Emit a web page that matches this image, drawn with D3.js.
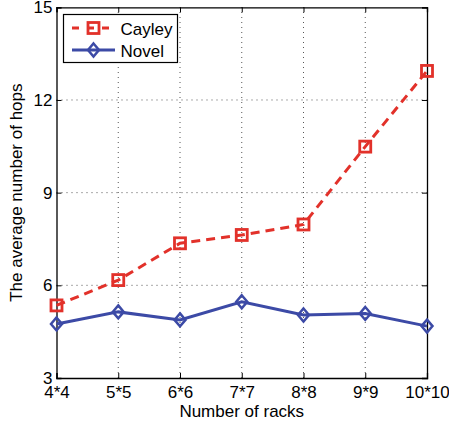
<!DOCTYPE html>
<html>
<head>
<meta charset="utf-8">
<script src="https://cdn.jsdelivr.net/npm/d3@7"></script>
<style>
  html, body { margin: 0; padding: 0; background: #fff; }
  svg { display: block; font-family: "Liberation Sans", Arial, sans-serif; }
</style>
</head>
<body>
<svg id="chart" width="449" height="423"></svg>
<script>
// Average hop count for each rack configuration
const categories = ["4*4", "5*5", "6*6", "7*7", "8*8", "9*9", "10*10"];
const cayley = [5.35, 6.17, 7.36, 7.63, 7.97, 10.49, 12.94];
const novel  = [4.75, 5.14, 4.88, 5.47, 5.04, 5.09, 4.68];
const yTicks = [3, 6, 9, 12, 15];

const W = 449, H = 423;
const m = { left: 56.5, right: 22, top: 7.3, bottom: 45 };
const svg = d3.select("#chart");

const x = d3.scalePoint().domain(categories).range([m.left, W - m.right]);
const y = d3.scaleLinear().domain([3, 15]).range([H - m.bottom, m.top]);

const red = "#e2312a", blue = "#3c4aa6";
const fs = 17;

// dotted grid
const grid = svg.append("g");
grid.selectAll("line.gx").data(categories.slice(1, -1)).join("line")
  .attr("x1", d => x(d)).attr("x2", d => x(d))
  .attr("y1", y(3)).attr("y2", y(15))
  .attr("stroke", "#555").attr("stroke-width", 1).attr("stroke-dasharray", "1,4");
grid.selectAll("line.gy").data(yTicks.slice(1, -1)).join("line")
  .attr("y1", d => y(d)).attr("y2", d => y(d))
  .attr("x1", x.range()[0]).attr("x2", x.range()[1])
  .attr("stroke", "#555").attr("stroke-width", 1).attr("stroke-dasharray", "1,4");

// axes (inward ticks on all four sides)
const tl = 5;
const axB = svg.append("g").attr("transform", `translate(0,${y(3)})`)
  .call(d3.axisBottom(x).tickSize(-tl));
const axT = svg.append("g").attr("transform", `translate(0,${y(15)})`)
  .call(d3.axisTop(x).tickSize(-tl).tickFormat(""));
const axL = svg.append("g").attr("transform", `translate(${x.range()[0]},0)`)
  .call(d3.axisLeft(y).tickValues(yTicks).tickSize(-tl).tickPadding(4));
const axR = svg.append("g").attr("transform", `translate(${x.range()[1]},0)`)
  .call(d3.axisRight(y).tickValues(yTicks).tickSize(-tl).tickFormat(""));
[axB, axT, axL, axR].forEach(a => {
  a.select(".domain").attr("stroke", "#000").attr("stroke-width", 1.3);
  a.selectAll(".tick line").attr("stroke", "#000");
  a.selectAll("text").attr("font-size", fs).attr("fill", "#000")
    .attr("font-family", "Liberation Sans, Arial, sans-serif");
});
// bottom tick labels sit with their baseline ~19px below the axis
axB.selectAll(".tick text").attr("y", 19.5).attr("dy", null);

// axis titles
svg.append("text").attr("x", (x.range()[0] + x.range()[1]) / 2).attr("y", 416.5)
  .attr("text-anchor", "middle").attr("font-size", fs).text("Number of racks");
svg.append("text")
  .attr("transform", `translate(22,${(y(3) + y(15)) / 2}) rotate(-90)`)
  .attr("text-anchor", "middle").attr("font-size", fs).text("The average number of hops");

// series
const line = d3.line().x((d, i) => x(categories[i])).y(d => y(d));

svg.append("path").datum(novel).attr("d", line)
  .attr("fill", "none").attr("stroke", blue).attr("stroke-width", 3);
svg.append("path").datum(cayley).attr("d", line)
  .attr("fill", "none").attr("stroke", red).attr("stroke-width", 3)
  .attr("stroke-dasharray", "9,6");

const diamond = (g, cx, cy) => g.append("path")
  .attr("d", `M${cx},${cy - 6.5}L${cx + 5.5},${cy}L${cx},${cy + 6.5}L${cx - 5.5},${cy}Z`)
  .attr("fill", "none").attr("stroke", blue).attr("stroke-width", 2.5);
const square = (g, cx, cy) => g.append("rect")
  .attr("x", cx - 5.5).attr("y", cy - 5.5).attr("width", 11).attr("height", 11)
  .attr("fill", "none").attr("stroke", red).attr("stroke-width", 2.8);

const marks = svg.append("g");
novel.forEach((v, i) => diamond(marks, x(categories[i]), y(v)));
cayley.forEach((v, i) => square(marks, x(categories[i]), y(v)));

// legend
const lg = svg.append("g");
lg.append("rect").attr("x", 63.5).attr("y", 14.5).attr("width", 114).attr("height", 48)
  .attr("fill", "#fff").attr("stroke", "#000").attr("stroke-width", 1.2);
lg.append("line").attr("x1", 72).attr("x2", 115).attr("y1", 28).attr("y2", 28)
  .attr("stroke", red).attr("stroke-width", 3).attr("stroke-dasharray", "7,8");
square(lg, 93.5, 28);
lg.append("line").attr("x1", 72).attr("x2", 115).attr("y1", 50).attr("y2", 50)
  .attr("stroke", blue).attr("stroke-width", 3);
diamond(lg, 93.5, 50);
lg.append("text").attr("x", 120.5).attr("y", 35).attr("font-size", fs).text("Cayley");
lg.append("text").attr("x", 120.5).attr("y", 56.5).attr("font-size", fs).text("Novel");
</script>
</body>
</html>
